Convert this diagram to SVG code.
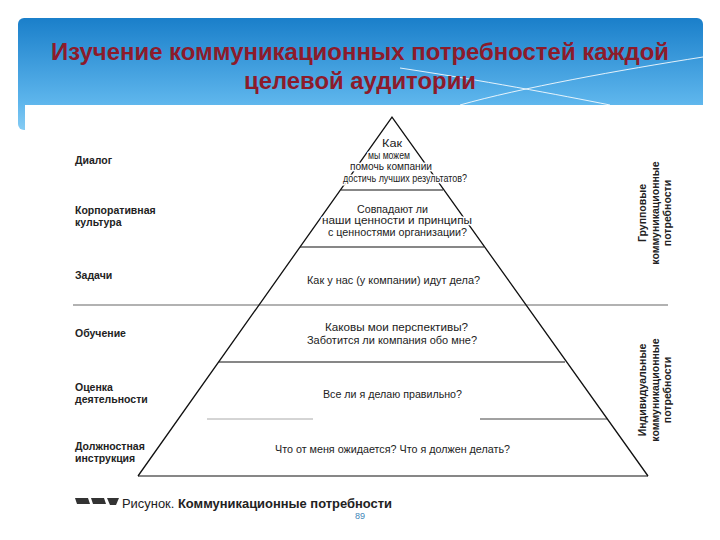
<svg xmlns="http://www.w3.org/2000/svg" width="720" height="540" viewBox="0 0 720 540">
  <defs>
    <linearGradient id="band" x1="0" y1="0" x2="0" y2="1">
      <stop offset="0" stop-color="#1a7fca"/>
      <stop offset="0.75" stop-color="#5db5ec"/>
      <stop offset="1" stop-color="#86ccf4"/>
    </linearGradient>
    <style>
      .title{font-family:"Liberation Sans",Arial,sans-serif;font-weight:bold;font-size:24px;fill:#8c1b2b;text-anchor:middle}
      .lab{font-family:"Liberation Sans",Arial,sans-serif;font-weight:bold;font-size:10.5px;fill:#222}
      .pt{font-family:"Liberation Sans",Arial,sans-serif;font-size:10px;fill:#222;text-anchor:middle;stroke:#fff;stroke-width:3;stroke-linejoin:round;paint-order:stroke}
      .side{font-family:"Liberation Sans",Arial,sans-serif;font-weight:bold;font-size:10.5px;fill:#222;text-anchor:middle}
      .edge{stroke:#111;stroke-width:1.3;fill:none}
      .hl{stroke:#111;stroke-width:1.2}
      .cap{font-family:"Liberation Sans",Arial,sans-serif;font-size:12px;fill:#222}
      .swoosh{stroke:#fff;stroke-width:1;fill:none;opacity:0.85}
    </style>
  </defs>

  <rect width="720" height="540" fill="#fff"/>

  <g id="header">
    <rect x="18" y="18" width="685" height="112" rx="6" fill="url(#band)"/>
    <path class="swoosh" d="M703,57 C620,70 520,88 460,105"/>
    <path class="swoosh" d="M400,68 C480,80 560,95 610,105"/>
    <rect x="25" y="105" width="680" height="425" fill="#fff"/>
    <text class="title" x="360" y="60" textLength="618" lengthAdjust="spacingAndGlyphs">Изучение коммуникационных потребностей каждой</text>
    <text class="title" x="360" y="89" textLength="232" lengthAdjust="spacingAndGlyphs">целевой аудитории</text>
  </g>

  <g id="connectors">
    <line class="hl" x1="341" y1="190" x2="443" y2="190"/>
    <line class="hl" x1="300" y1="247" x2="484" y2="247"/>
    <line x1="73" y1="305" x2="668" y2="305" stroke="#666" stroke-width="1.2"/>
    <line class="hl" x1="219" y1="362" x2="565" y2="362"/>
    <line x1="207" y1="419" x2="313" y2="419" stroke="#aaa" stroke-width="1"/>
    <line x1="480" y1="419" x2="607" y2="419" stroke="#444" stroke-width="1"/>
    <line class="hl" x1="138" y1="476" x2="648" y2="476"/>
    <polyline class="edge" points="138,476 392,117 648,476"/>
  </g>

  <g id="pyramid-texts">
    <g id="level1">
      <text class="pt" x="392" y="146.5" textLength="20" lengthAdjust="spacingAndGlyphs">Как</text>
      <text class="pt" x="389" y="158.5" textLength="42" lengthAdjust="spacingAndGlyphs">мы можем</text>
      <text class="pt" x="391" y="169.5" textLength="82" lengthAdjust="spacingAndGlyphs">помочь компании</text>
      <text class="pt" x="405" y="181.5" textLength="124" lengthAdjust="spacingAndGlyphs">достичь лучших результатов?</text>
    </g>
    <g id="level2">
      <text class="pt" x="392.5" y="212.5" textLength="71" lengthAdjust="spacingAndGlyphs">Совпадают ли</text>
      <text class="pt" x="397" y="223.5" textLength="150" lengthAdjust="spacingAndGlyphs">наши ценности и принципы</text>
      <text class="pt" x="397.5" y="235.5" textLength="139" lengthAdjust="spacingAndGlyphs">с ценностями организации?</text>
    </g>
    <g id="level3">
      <text class="pt" x="393.5" y="284" textLength="173" lengthAdjust="spacingAndGlyphs">Как у нас (у компании) идут дела?</text>
    </g>
    <g id="level4">
      <text class="pt" x="396.5" y="330.5" textLength="143" lengthAdjust="spacingAndGlyphs">Каковы мои перспективы?</text>
      <text class="pt" x="392" y="343.5" textLength="170" lengthAdjust="spacingAndGlyphs">Заботится ли компания обо мне?</text>
    </g>
    <g id="level5">
      <text class="pt" x="392.5" y="397.5" textLength="139" lengthAdjust="spacingAndGlyphs">Все ли я делаю правильно?</text>
    </g>
    <g id="level6">
      <text class="pt" x="392.5" y="452.5" textLength="235" lengthAdjust="spacingAndGlyphs">Что от меня ожидается? Что я должен делать?</text>
    </g>
  </g>

  <g id="left-labels">
    <text class="lab" x="75" y="163.5">Диалог</text>
    <text class="lab" x="75" y="213.5">Корпоративная</text>
    <text class="lab" x="75" y="225.5">культура</text>
    <text class="lab" x="75" y="278.5">Задачи</text>
    <text class="lab" x="75" y="336.5">Обучение</text>
    <text class="lab" x="75" y="390.5">Оценка</text>
    <text class="lab" x="75" y="402.5">деятельности</text>
    <text class="lab" x="75" y="449.5">Должностная</text>
    <text class="lab" x="75" y="461.5">инструкция</text>
  </g>

  <g id="group-needs">
    <text class="side" transform="translate(642,213) rotate(-90)" dy="0.35em">Групповые</text>
    <text class="side" transform="translate(655,213) rotate(-90)" dy="0.35em">коммуникационные</text>
    <text class="side" transform="translate(667,213) rotate(-90)" dy="0.35em">потребности</text>
  </g>

  <g id="individual-needs">
    <text class="side" transform="translate(642,390) rotate(-90)" dy="0.35em">Индивидуальные</text>
    <text class="side" transform="translate(655,390) rotate(-90)" dy="0.35em">коммуникационные</text>
    <text class="side" transform="translate(667,390) rotate(-90)" dy="0.35em">потребности</text>
  </g>

  <g id="caption">
    <polygon points="75,498 88,498 90,504 77,504" fill="#333"/>
    <polygon points="91,498 104,498 106,504 93,504" fill="#333"/>
    <polygon points="107,498 119,498 116,505 110,505" fill="#333"/>
    <text class="cap" x="122" y="508" textLength="270" lengthAdjust="spacingAndGlyphs">Рисунок. <tspan font-weight="bold">Коммуникационные потребности</tspan></text>
    <text x="355" y="519" font-family="Liberation Sans, Arial, sans-serif" font-size="9" fill="#3f86b8">89</text>
  </g>
</svg>
